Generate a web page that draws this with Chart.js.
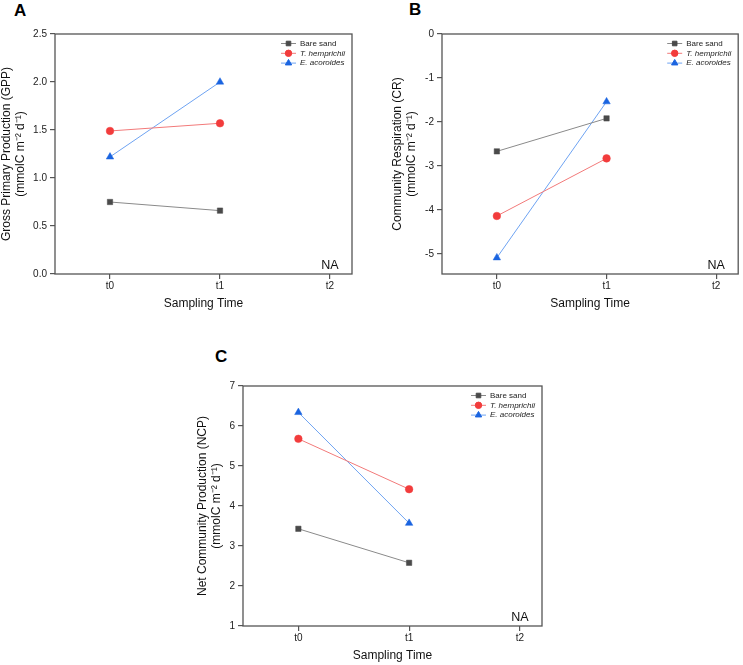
<!DOCTYPE html>
<html>
<head>
<meta charset="utf-8">
<script src="https://cdn.jsdelivr.net/npm/chart.js@4.4.0/dist/chart.umd.min.js"></script>
<style>
  body { margin: 0; background: #fff; }
  #page { position: relative; width: 743px; height: 665px; overflow: hidden; }
  canvas { position: absolute; }
  .letter { position: absolute; font: bold 17px "Liberation Sans", Arial, sans-serif; color: #000; }
</style>
</head>
<body>
<div id="page">
  <div class="letter" style="left:14px;top:1px">A</div>
  <div class="letter" style="left:409px;top:0px">B</div>
  <div class="letter" style="left:215px;top:347px">C</div>
  <canvas id="chartA" width="370" height="313" style="left:0px;top:0px"></canvas>
  <canvas id="chartB" width="352" height="313" style="left:391px;top:0px"></canvas>
  <canvas id="chartC" width="364" height="335" style="left:196px;top:330px"></canvas>
</div>
<script>
const samplingTimes = ["t0", "t1", "t2"];
const seriesNames = ["Bare sand", "T. hemprichii", "E. acoroides"];

// GPP (panel A)
const gppBare = [0.75, 0.66];
const gppThem = [1.49, 1.57];
const gppEaco = [1.22, 2.0];
const gppTicks = [0, 0.5, 1, 1.5, 2, 2.5];

// CR (panel B)
const crBare = [-2.67, -1.92];
const crThem = [-4.14, -2.83];
const crEaco = [-5.09, -1.54];
const crTicks = [0, -1, -2, -3, -4, -5];

// NCP (panel C)
const ncpBare = [3.43, 2.58];
const ncpThem = [5.68, 4.42];
const ncpEaco = [6.34, 3.57];
const ncpTicks = [1, 2, 3, 4, 5, 6, 7];

const FONT = "'Liberation Sans', Arial, sans-serif";
const styles = [
  { line: "#8a8a8a", mark: "#4a4a4a", shape: "rect", r: 3.8 },
  { line: "#f27a7a", mark: "#f23c3c", shape: "circle", r: 3.8 },
  { line: "#6ea3f2", mark: "#1a64e0", shape: "triangle", r: 4.3 }
];

function toPoints(values) {
  return values.map((v, i) => ({ x: i, y: v }));
}

// frame, legend inside plot and NA label
const panelExtras = {
  id: "panelExtras",
  afterDraw(chart) {
    const ctx = chart.ctx;
    const area = chart.chartArea;
    ctx.save();
    ctx.strokeStyle = "#555";
    ctx.lineWidth = 1.3;
    ctx.strokeRect(area.left, area.top, area.right - area.left, area.bottom - area.top);

    // legend
    const x0 = area.right - 71;
    chart.data.datasets.forEach((ds, i) => {
      const y = area.top + 9.5 + i * 9.8;
      ctx.strokeStyle = ds.borderColor;
      ctx.lineWidth = 1;
      ctx.beginPath();
      ctx.moveTo(x0, y);
      ctx.lineTo(x0 + 15, y);
      ctx.stroke();
      ctx.fillStyle = ds.pointBackgroundColor;
      ctx.strokeStyle = ds.pointBackgroundColor;
      Chart.helpers.drawPoint(ctx, { pointStyle: ds.pointStyle, radius: ds.pointRadius * 0.85, rotation: 0, borderWidth: 0.5 }, x0 + 7.5, y);
      ctx.fillStyle = "#222";
      ctx.font = (i > 0 ? "italic " : "") + "8px " + FONT;
      ctx.textBaseline = "middle";
      ctx.textAlign = "left";
      ctx.fillText(ds.label, x0 + 19, y);
    });

    // NA at t2
    ctx.fillStyle = "#111";
    ctx.font = "12.5px " + FONT;
    ctx.textAlign = "center";
    ctx.textBaseline = "middle";
    ctx.fillText("NA", chart.scales.x.getPixelForValue(2), area.bottom - 8.5);
    ctx.restore();
  }
};

function makePanel(canvasId, sets, yTicks, yMin, yMax, yDecimals, yTitle, yWidth, padTop, padRight) {
  const datasets = sets.map((vals, i) => ({
    label: seriesNames[i],
    data: toPoints(vals),
    borderColor: styles[i].line,
    borderWidth: 1,
    pointStyle: styles[i].shape,
    pointRadius: styles[i].r,
    pointBackgroundColor: styles[i].mark,
    pointBorderColor: styles[i].mark,
    pointBorderWidth: 0.5,
    tension: 0
  }));

  return new Chart(document.getElementById(canvasId).getContext("2d"), {
    type: "line",
    data: { datasets: datasets },
    options: {
      responsive: false,
      animation: false,
      layout: { padding: { top: padTop, right: padRight, left: 0, bottom: 0 } },
      plugins: {
        legend: { display: false },
        tooltip: { enabled: false }
      },
      scales: {
        x: {
          type: "linear",
          min: -0.5,
          max: 2.2,
          afterBuildTicks: (axis) => {
            axis.ticks = samplingTimes.map((t, i) => ({ value: i }));
          },
          afterFit: (axis) => {
            axis.height = 39;
          },
          border: { display: false },
          grid: { drawOnChartArea: false, tickLength: 5, color: "#555", lineWidth: 1.2 },
          ticks: {
            callback: (v) => samplingTimes[v],
            font: { family: FONT, size: 10 },
            color: "#222",
            padding: 1,
            maxRotation: 0
          },
          title: {
            display: true,
            text: "Sampling Time",
            font: { family: FONT, size: 12 },
            color: "#111",
            padding: { top: 0, bottom: 2 }
          }
        },
        y: {
          min: yMin,
          max: yMax,
          afterBuildTicks: (axis) => {
            axis.ticks = yTicks.map((v) => ({ value: v }));
          },
          afterFit: (axis) => {
            axis.width = yWidth;
          },
          border: { display: false },
          grid: { drawOnChartArea: false, tickLength: 5, color: "#555", lineWidth: 1.2 },
          ticks: {
            callback: (v) => v.toFixed(yDecimals),
            font: { family: FONT, size: 10 },
            color: "#222",
            padding: 3
          },
          title: {
            display: true,
            text: [yTitle, "(mmolC m\u207B\u00B2 d\u207B\u00B9)"],
            font: { family: FONT, size: 12, lineHeight: 1.125 },
            color: "#111",
            padding: { top: 0, bottom: 0 }
          }
        }
      }
    },
    plugins: [panelExtras]
  });
}

makePanel("chartA", [gppBare, gppThem, gppEaco], gppTicks, 0, 2.5, 1,
  "Gross Primary Production (GPP)", 55, 34, 18);
makePanel("chartB", [crBare, crThem, crEaco], crTicks, -5.46, 0, 0,
  "Community Respiration (CR)", 51, 34, 2);
makePanel("chartC", [ncpBare, ncpThem, ncpEaco], ncpTicks, 1, 7, 0,
  "Net Community Production (NCP)", 47, 56, 18);
</script>
</body>
</html>
